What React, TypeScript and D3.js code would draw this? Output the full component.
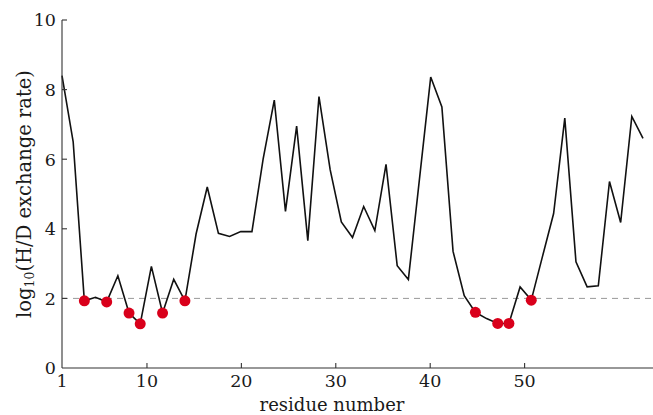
import React from "react";
import * as d3 from "d3";

const width = 653;
const height = 415;
const margin = { top: 20, right: 0, bottom: 48, left: 62 };

// log10 exchange rate per residue (1..53)
const rates = [
  8.4, 6.5, 1.93, 2.03, 1.9, 2.65, 1.58, 1.27, 2.92, 1.58,
  2.55, 1.93, 3.85, 5.2, 3.87, 3.78, 3.92, 3.92, 6.0, 7.7,
  4.5, 6.95, 3.66, 7.8, 5.7, 4.2, 3.75, 4.64, 3.95, 5.85,
  2.94, 2.54, 5.45, 8.36, 7.5, 3.35, 2.08, 1.6, 1.42, 1.28,
  1.28, 2.33, 1.95, 3.2, 4.44, 7.18, 3.05, 2.33, 2.36, 5.36,
  4.18, 7.23, 6.6
];
const residues = rates.map((_, i) => i + 1);
const slowResidues = [3, 5, 7, 8, 10, 12, 38, 40, 41, 43];
const xTicks = [1, 10, 20, 30, 40, 50];
const yTicks = [0, 2, 4, 6, 8, 10];
const threshold = 2;

const font = "DejaVu Serif, serif";

export default function App() {
  const plotRight = width - margin.right;
  const plotBottom = height - margin.bottom + 1;
  const lastX = 643;

  // points are spaced on their own index scale; the printed axis ticks use another
  const xData = d3.scaleLinear().domain([1, residues.length]).range([margin.left, lastX]);
  const xAxis = d3.scaleLinear().domain([1, 63.6]).range([margin.left, plotRight]);
  const y = d3.scaleLinear().domain([0, 10]).range([plotBottom, margin.top]);

  const line = d3
    .line<number>()
    .x((d, i) => xData(residues[i]))
    .y((d) => y(d));

  return (
    <svg
      width={width}
      height={height}
      style={{ position: "absolute", left: 0, top: 0, background: "#fff" }}
    >
      {/* threshold */}
      <line
        x1={margin.left}
        x2={plotRight}
        y1={y(threshold)}
        y2={y(threshold)}
        stroke="#999"
        strokeWidth={1}
        strokeDasharray="6 5"
      />

      <path d={line(rates) || ""} fill="none" stroke="#111" strokeWidth={1.6} strokeLinejoin="miter" />

      {slowResidues.map((r) => (
        <circle key={r} cx={xData(r)} cy={y(rates[r - 1])} r={5.5} fill="#d9001b" />
      ))}

      {/* axes */}
      <g stroke="#333" strokeWidth={1.1}>
        <line x1={margin.left} x2={margin.left} y1={y(10)} y2={plotBottom} />
        <line x1={margin.left} x2={plotRight} y1={plotBottom} y2={plotBottom} />
        {yTicks.slice(1).map((t) => (
          <line key={t} x1={margin.left} x2={margin.left + 5} y1={y(t)} y2={y(t)} />
        ))}
        {xTicks.slice(1).map((t) => (
          <line key={t} x1={xAxis(t)} x2={xAxis(t)} y1={plotBottom} y2={plotBottom - 5} />
        ))}
      </g>

      <g style={{ fontFamily: font }} fontSize={17.5} fill="#1a1a1a">
        {yTicks.map((t) => (
          <text key={t} x={margin.left - 6} y={y(t)} dy="0.36em" textAnchor="end">
            {t}
          </text>
        ))}
        {xTicks.map((t) => (
          <text key={t} x={xAxis(t)} y={plotBottom + 19} textAnchor="middle">
            {t}
          </text>
        ))}
      </g>

      <text
        x={332}
        y={height - 4}
        textAnchor="middle"
        style={{ fontFamily: font }}
        fontSize={18}
        fill="#1a1a1a"
      >
        residue number
      </text>

      <text
        transform={`translate(31 ${194}) rotate(-90)`}
        textAnchor="middle"
        style={{ fontFamily: font }}
        fontSize={19.5}
        fill="#1a1a1a"
      >
        log
        <tspan fontSize={12.5} dy={3}>10</tspan>
        <tspan dy={-3}>(H/D exchange rate)</tspan>
      </text>
    </svg>
  );
}
